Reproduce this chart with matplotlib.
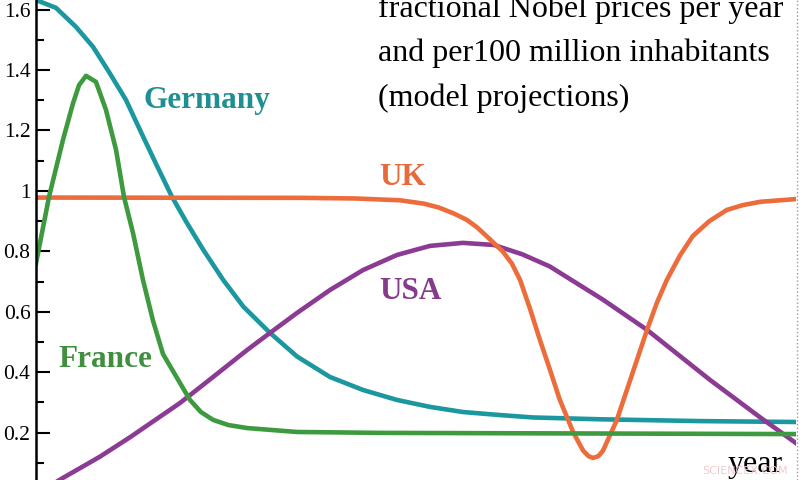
import matplotlib
matplotlib.use('Agg')
import matplotlib.pyplot as plt
from matplotlib.lines import Line2D
from matplotlib.ticker import FixedLocator, FuncFormatter

# curves (x is an arbitrary 0..100 time scale, no tick labels in the original)
germany_x = [0, 2.63, 5.26, 7.5, 9.6, 11.84, 13.9, 15.88, 17.86, 19.83, 22.01, 24.64, 27.28,
             30.79, 34.34, 38.68, 43.03, 47.5, 51.84, 56.18, 61.05, 65.4, 74.2, 87.4, 100]
germany_y = [1.632, 1.606, 1.543, 1.477, 1.394, 1.301, 1.19, 1.085, 0.982, 0.895, 0.805,
             0.705, 0.617, 0.530, 0.452, 0.384, 0.341, 0.308, 0.285, 0.268, 0.258,
             0.250, 0.244, 0.238, 0.235]

france_x = [0, 1.71, 3.55, 4.87, 5.66, 6.58, 7.89, 9.21, 10.53, 11.58, 12.76, 14.08, 15.4,
            16.71, 18.95, 20.26, 21.7, 23.3, 25.3, 27.76, 34.34, 45.26, 100]
france_y = [0.76, 0.98, 1.169, 1.29, 1.35, 1.381, 1.361, 1.268, 1.136, 0.98, 0.861, 0.705,
            0.57, 0.46, 0.364, 0.308, 0.268, 0.242, 0.225, 0.215, 0.202, 0.199, 0.195]

uk_x = [0, 35, 42, 47.9, 51, 53, 55, 56.7, 58, 59.3, 61.4, 62.6, 63.7, 65, 66.3, 67.6, 68.9,
        70.7, 72, 72.7, 73.3, 74, 74.6, 76.4, 78.4, 80.4, 81.7, 83, 84.7, 86.4, 88.6, 90.9,
        93, 95.3, 100]
uk_y = [0.978, 0.977, 0.975, 0.969, 0.958, 0.945, 0.925, 0.904, 0.88, 0.85, 0.80, 0.76,
        0.705, 0.61, 0.507, 0.41, 0.31, 0.20, 0.14, 0.122, 0.116, 0.122, 0.14, 0.24, 0.39,
        0.54, 0.63, 0.705, 0.785, 0.85, 0.90, 0.937, 0.953, 0.964, 0.973]

usa_x = [0, 3.55, 8.4, 12.4, 18.95, 23.3, 27.76, 30.79, 34.34, 38.68, 43.03, 47.5, 51.84,
         56.18, 60.26, 64, 67.6, 74.6, 80.4, 88.7, 95.3, 100]
usa_y = [-0.005, 0.05, 0.12, 0.185, 0.298, 0.384, 0.473, 0.53, 0.596, 0.672, 0.738, 0.788,
         0.818, 0.828, 0.821, 0.79, 0.75, 0.64, 0.54, 0.374, 0.25, 0.165]

y_ticks = [0.2, 0.4, 0.6, 0.8, 1.0, 1.2, 1.4, 1.6]
y_minor = [0.1, 0.3, 0.5, 0.7, 0.9, 1.1, 1.3, 1.5]
title_lines = ['fractional Nobel prices per year',
               'and per100 million inhabitants',
               '(model projections)']

plt.rcParams['font.family'] = ['Liberation Serif', 'DejaVu Serif']

fig = plt.figure(figsize=(8, 4.8), dpi=100)
ax = fig.add_axes([0.045, 0.0, 0.95, 1.0])

lw = 3.3
ax.plot(germany_x, germany_y, color='#1b97a0', lw=lw, solid_joinstyle='round')
ax.plot(usa_x, usa_y, color='#8c3b94', lw=lw, solid_joinstyle='round')
ax.plot(uk_x, uk_y, color='#ec6c3b', lw=lw, solid_joinstyle='round')
ax.plot(france_x, france_y, color='#3e9a3e', lw=lw, solid_joinstyle='round')

ax.set_xlim(0, 100)
ax.set_ylim(0.043, 1.632)

# series labels
lab = dict(fontsize=22.5, fontweight='bold', va='baseline', ha='left')
ax.text(14.1, 1.275, 'Germany', color='#1f8f92', **lab)
ax.text(2.9, 0.417, 'France', color='#3f8f3f', **lab)
ax.text(45.1, 1.02, 'UK', color='#e8693a', **lab)
ax.text(45.1, 0.642, 'USA', color='#853a8c', **lab)

# axis styling: only left spine, inward ticks
for s in ['top', 'right', 'bottom']:
    ax.spines[s].set_visible(False)
ax.spines['left'].set_linewidth(1.8)
ax.xaxis.set_visible(False)
ax.yaxis.set_major_locator(FixedLocator(y_ticks))
ax.yaxis.set_minor_locator(FixedLocator(y_minor))
ax.yaxis.set_major_formatter(FuncFormatter(lambda v, p: '%g' % v))
ax.tick_params(axis='y', which='major', direction='in', length=10, width=1.5,
               labelsize=15.5, pad=4)
ax.tick_params(axis='y', which='minor', direction='in', length=5.5, width=1.5)

# title block and axis name
for i, line in enumerate(title_lines):
    fig.text(378 / 800, 1 - (17 + 44.5 * i) / 480, line, fontsize=23, va='baseline', ha='left')
fig.text(728 / 800, 1 - 472 / 480, 'year', fontsize=23, va='baseline', ha='left')
fig.text(702 / 800, 1 - 474 / 480, 'SCIENCEX.COM', fontsize=8, family='DejaVu Sans',
         color='#f2c9cd', va='baseline', ha='left')

# dotted frame edge at the right
fig.add_artist(Line2D([797 / 800, 797 / 800], [0, 1], transform=fig.transFigure,
                      color='#999999', lw=1, ls=':'))

fig.savefig('out.png', dpi=100)
